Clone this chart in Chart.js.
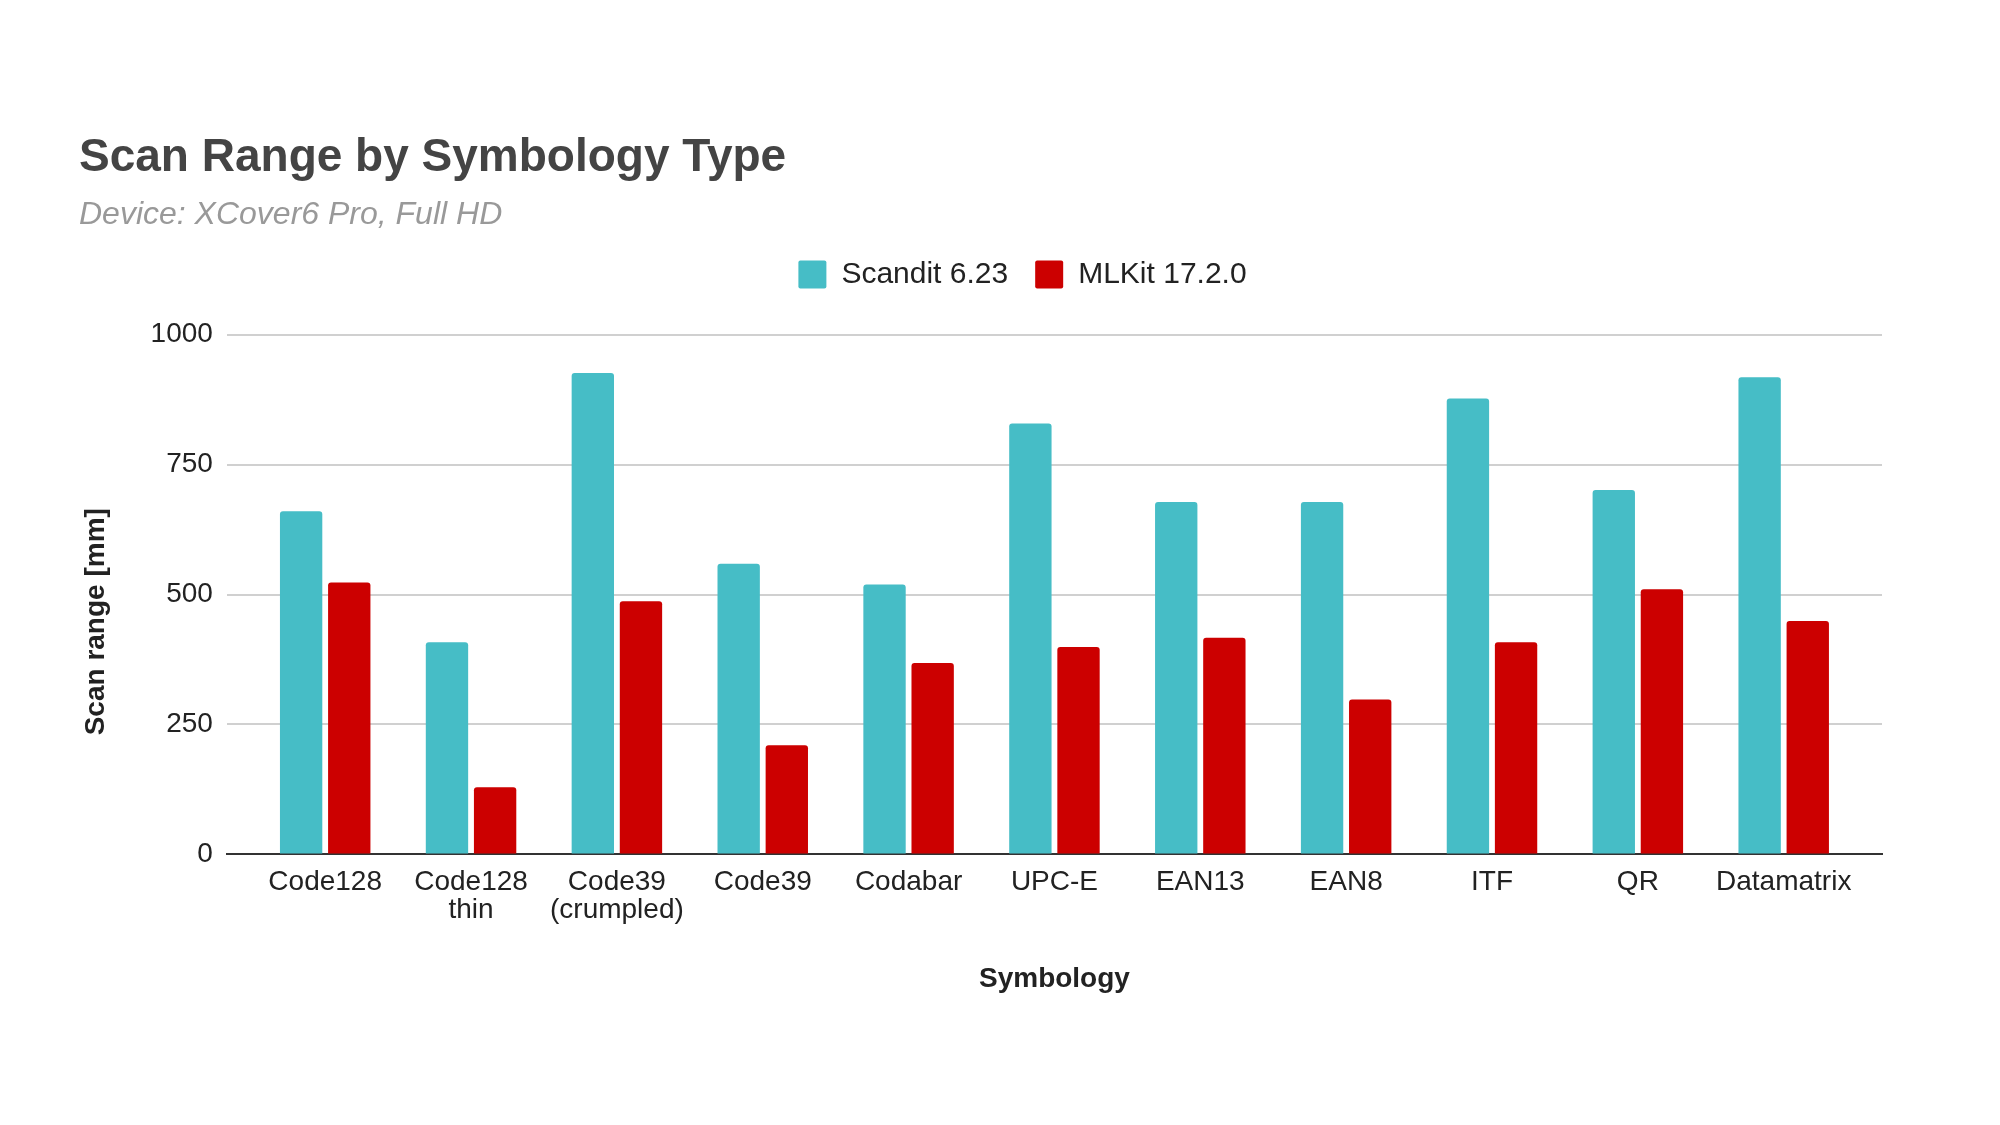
<!DOCTYPE html>
<html>
<head>
<meta charset="utf-8">
<script src="https://cdn.jsdelivr.net/npm/chart.js@4.4.1/dist/chart.umd.min.js"></script>
<style>
  html, body { margin: 0; padding: 0; background: #ffffff; }
  #wrap { width: 2000px; height: 1125px; position: relative; }
</style>
</head>
<body>
<div id="wrap"><canvas id="chart"></canvas></div>
<script>
// Data
const CATEGORIES = ['Code128', ['Code128', 'thin'], ['Code39', '(crumpled)'], 'Code39', 'Codabar', 'UPC-E', 'EAN13', 'EAN8', 'ITF', 'QR', 'Datamatrix'];
const SCANDIT = [660, 408, 926, 559, 519, 829, 678, 678, 877, 701, 918];
const MLKIT = [523, 129, 487, 210, 368, 399, 417, 298, 408, 510, 449];
const Y_TICKS = [0, 250, 500, 750, 1000];

// Colors
const CYAN = '#46bdc6';
const RED = '#cc0000';
const TEXT_COLOR = '#222222';
const TITLE_COLOR = '#444444';
const SUBTITLE_COLOR = '#999999';
const GRID_COLOR = '#d0d0d0';
const AXIS_COLOR = '#333333';

// Fonts
const FONT_FAMILY = '"Liberation Sans", Arial, sans-serif';

// Legend tweaks (extra gap under legend, shift to the right)
const LEGEND_GAP = 35;
const LEGEND_SHIFT = 42;
// extra empty space at both ends of the category axis, in categories
const X_GUTTER = 0.174;

Chart.defaults.font.family = FONT_FAMILY;
Chart.defaults.color = TEXT_COLOR;

const legendSpacing = {
    id: 'legendSpacing',
    afterInit(chart) {
        const fit = chart.legend.fit;
        chart.legend.fit = function () {
            fit.call(this);
            this.height += LEGEND_GAP;
        };
    },
    afterLayout(chart) {
        chart.legend.left += LEGEND_SHIFT;
        chart.legend.right += LEGEND_SHIFT;
    }
};

const data = {
    labels: CATEGORIES,
    datasets: [{
        label: 'Scandit 6.23',
        data: SCANDIT,
        backgroundColor: CYAN,
        borderRadius: { topLeft: 3, topRight: 3 },
        borderSkipped: 'bottom'
    }, {
        label: 'MLKit 17.2.0',
        data: MLKIT,
        backgroundColor: RED,
        borderRadius: { topLeft: 3, topRight: 3 },
        borderSkipped: 'bottom'
    }]
};

const options = {
    responsive: true,
    maintainAspectRatio: false,
    animation: false,
    devicePixelRatio: 1,
    categoryPercentage: 0.66,
    barPercentage: 0.88,
    layout: {
        padding: { left: 79, right: 118, top: 0, bottom: 129 }
    },
    scales: {
        x: {
            afterBuildTicks: (axis) => {
                axis._startValue -= X_GUTTER;
                axis._valueRange += 2 * X_GUTTER;
            },
            grid: { display: false },
            border: { display: true, color: AXIS_COLOR, width: 2 },
            ticks: {
                color: TEXT_COLOR,
                padding: 6,
                maxRotation: 0,
                autoSkip: false,
                font: { size: 28, lineHeight: 1.0 }
            },
            title: {
                display: true,
                text: 'Symbology',
                color: TEXT_COLOR,
                font: { size: 28, weight: 'bold' },
                padding: { top: 32, bottom: 0 }
            }
        },
        y: {
            min: 0,
            max: 1000,
            afterBuildTicks: (axis) => {
                axis.ticks = Y_TICKS.map(v => ({ value: v }));
            },
            grid: {
                color: GRID_COLOR,
                lineWidth: 2,
                drawTicks: false
            },
            border: { display: false },
            ticks: {
                color: TEXT_COLOR,
                padding: 14,
                font: { size: 28 },
                callback: (value) => String(value)
            },
            title: {
                display: true,
                text: 'Scan range [mm]       ',
                color: TEXT_COLOR,
                font: { size: 28, weight: 'bold' },
                padding: { top: 0, bottom: 24 }
            }
        }
    },
    plugins: {
        title: {
            display: true,
            text: 'Scan Range by Symbology Type',
            align: 'start',
            color: TITLE_COLOR,
            font: { size: 46, weight: 'bold' },
            padding: { top: 131, bottom: 0 }
        },
        subtitle: {
            display: true,
            text: 'Device: XCover6 Pro, Full HD',
            align: 'start',
            color: SUBTITLE_COLOR,
            font: { size: 32, style: 'italic' },
            padding: { top: 10, bottom: -2 }
        },
        legend: {
            position: 'top',
            labels: {
                boxWidth: 28,
                boxHeight: 28,
                padding: 27,
                color: TEXT_COLOR,
                font: { size: 30 },
                useBorderRadius: true,
                borderRadius: 2
            }
        },
        tooltip: { enabled: false }
    }
};

new Chart(document.getElementById('chart'), {
    type: 'bar',
    data: data,
    options: options,
    plugins: [legendSpacing]
});
</script>
</body>
</html>
